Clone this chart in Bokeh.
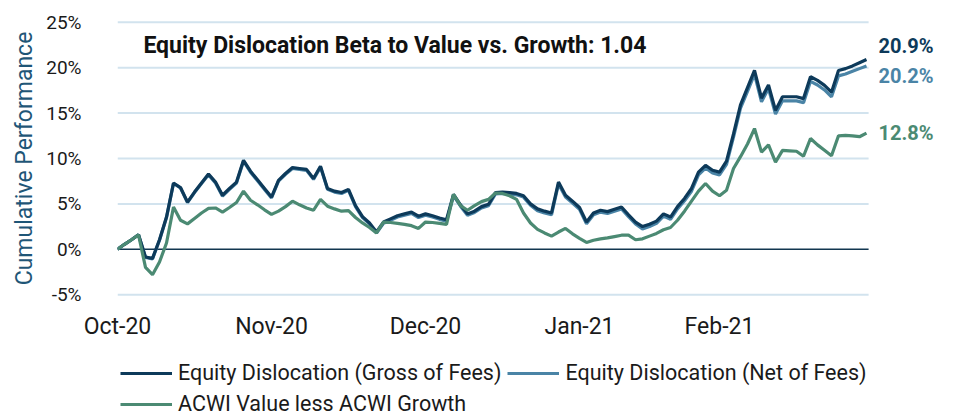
from bokeh.plotting import figure
from bokeh.layouts import column
from bokeh.models import (FixedTicker, Label, LabelSet, Legend, LegendItem,
                          ColumnDataSource)
from bokeh.core.properties import value
from bokeh.embed import file_html
from bokeh.resources import INLINE

# ---------------- data ----------------
day = list(range(108))

gross = [0.0, 0.55, 1.05, 1.6, -0.85, -1.0, 1.05, 3.55, 7.3, 6.8,
         5.2, 6.3, 7.3, 8.3, 7.4, 5.95, 6.7, 7.4, 9.8, 8.6,
         7.65, 6.7, 5.75, 7.6, 8.35, 9.0, 8.9, 8.8, 7.8, 9.15,
         6.7, 6.4, 6.25, 6.6, 4.8, 3.6, 2.9, 1.9, 3.0, 3.35,
         3.7, 3.9, 4.1, 3.65, 3.9, 3.7, 3.45, 3.25, 6.05, 4.9,
         3.9, 4.2, 4.7, 4.95, 6.25, 6.3, 6.25, 6.15, 5.9, 5.0,
         4.45, 4.2, 4.0, 7.4, 5.95, 5.3, 4.6, 3.0, 4.0, 4.3,
         4.15, 4.4, 4.65, 3.8, 3.0, 2.5, 2.75, 3.1, 3.9, 3.55,
         4.7, 5.6, 6.7, 8.5, 9.25, 8.7, 8.5, 9.7, 12.7, 15.9,
         17.8, 19.7, 16.65, 18.1, 15.3, 16.8, 16.8, 16.8, 16.6, 19.0,
         18.6, 18.05, 17.3, 19.7, 19.9, 20.2, 20.55, 20.9]

net = [0.0, 0.55, 1.05, 1.6, -0.9, -1.05, 1.0, 3.5, 7.25, 6.75,
       5.15, 6.25, 7.25, 8.2, 7.3, 5.85, 6.6, 7.3, 9.7, 8.5,
       7.55, 6.6, 5.65, 7.5, 8.25, 8.9, 8.8, 8.7, 7.7, 9.05,
       6.6, 6.3, 6.15, 6.5, 4.7, 3.5, 2.8, 1.8, 2.85, 3.2,
       3.55, 3.75, 3.95, 3.5, 3.75, 3.55, 3.3, 3.1, 5.9, 4.75,
       3.75, 4.05, 4.55, 4.8, 6.1, 6.15, 6.1, 6.0, 5.75, 4.85,
       4.25, 4.0, 3.8, 7.2, 5.75, 5.1, 4.4, 2.8, 3.8, 4.1,
       3.95, 4.2, 4.45, 3.6, 2.8, 2.25, 2.5, 2.85, 3.65, 3.3,
       4.45, 5.35, 6.4, 8.2, 8.95, 8.4, 8.2, 9.35, 12.35, 15.55,
       17.4, 19.3, 16.25, 17.7, 14.9, 16.35, 16.35, 16.35, 16.15, 18.5,
       18.1, 17.55, 16.8, 19.1, 19.3, 19.6, 19.9, 20.2]

acwi = [0.0, 0.55, 1.05, 1.6, -2.0, -2.8, -1.4, 0.7, 4.65, 3.2,
        2.8, 3.4, 4.0, 4.5, 4.55, 4.1, 4.6, 5.15, 6.4, 5.4,
        4.9, 4.35, 3.85, 4.2, 4.7, 5.3, 4.9, 4.55, 4.3, 5.5,
        4.75, 4.45, 4.2, 4.25, 3.5, 2.9, 2.4, 1.8, 3.0, 2.95,
        2.85, 2.75, 2.6, 2.3, 3.0, 2.95, 2.85, 2.75, 6.05, 4.8,
        4.3, 4.8, 5.25, 5.5, 6.2, 6.15, 5.9, 5.5, 4.0, 2.9,
        2.2, 1.8, 1.45, 1.9, 2.3, 1.7, 1.2, 0.75, 1.0, 1.15,
        1.25, 1.4, 1.55, 1.55, 1.05, 1.15, 1.45, 1.75, 2.15, 2.4,
        3.2, 4.2, 5.3, 6.4, 7.25, 6.4, 5.9, 6.5, 8.9, 10.2,
        11.6, 13.3, 10.7, 11.5, 9.6, 10.9, 10.85, 10.8, 10.25, 12.2,
        11.5, 10.9, 10.3, 12.5, 12.55, 12.5, 12.4, 12.8]

series_names = ["Equity Dislocation (Gross of Fees)",
                "Equity Dislocation (Net of Fees)",
                "ACWI Value less ACWI Growth"]
month_ticks = [0, 22, 44, 66, 86]
month_labels = ["Oct-20", "Nov-20", "Dec-20", "Jan-21", "Feb-21"]
y_ticks = [-5, 0, 5, 10, 15, 20, 25]
title_text = "Equity Dislocation Beta to Value vs. Growth: 1.04"

# ---------------- style ----------------
C_GROSS = "#0d3a5a"
C_NET = "#4a84a6"
C_ACWI = "#4b8a73"
C_GRID = "#d2e3ee"
FONT = "Roboto"
PX_PER_DAY = 7.0
FRAME_W = 828

p = figure(frame_width=FRAME_W, frame_height=276,
           x_range=(0, FRAME_W / PX_PER_DAY), y_range=(-5.2, 25.2),
           output_backend="svg", toolbar_location=None,
           min_border_left=117, min_border_right=14, min_border_top=20,
           min_border_bottom=54)
p.outline_line_color = None
p.background_fill_color = "white"
p.border_fill_color = "white"
p.xgrid.grid_line_color = None
p.ygrid.grid_line_color = None

# horizontal gridlines end at the last data point
grid_end = day[-1] + 0.3
grid_src = ColumnDataSource(dict(y=[t for t in y_ticks if t != 0]))
p.segment(x0=day[0], x1=grid_end, y0="y", y1="y", source=grid_src,
          line_color=C_GRID, line_width=2)
p.segment(x0=day[0], x1=grid_end, y0=0, y1=0, line_color="#123650", line_width=1.5)

# y axis
p.yaxis.ticker = FixedTicker(ticks=y_ticks)
p.yaxis.major_label_overrides = {t: f"{t}%" for t in y_ticks}
p.yaxis.axis_line_color = None
p.yaxis.major_tick_line_color = None
p.yaxis.minor_tick_line_color = None
p.yaxis.major_label_text_font = FONT
p.yaxis.major_label_text_font_size = "19px"
p.yaxis.major_label_text_color = "#1a1a1a"
p.yaxis.major_label_standoff = 30
p.yaxis.axis_label = "Cumulative Performance"
p.yaxis.axis_label_text_font = FONT
p.yaxis.axis_label_text_font_style = "normal"
p.yaxis.axis_label_text_font_size = "23px"
p.yaxis.axis_label_text_color = "#1f5677"
p.yaxis.axis_label_standoff = 5

# x axis
p.xaxis.ticker = FixedTicker(ticks=month_ticks)
p.xaxis.major_label_overrides = dict(zip(month_ticks, month_labels))
p.xaxis.axis_line_color = None
p.xaxis.major_tick_line_color = None
p.xaxis.minor_tick_line_color = None
p.xaxis.major_label_text_font = FONT
p.xaxis.major_label_text_font_size = "23px"
p.xaxis.major_label_text_color = "#1a1a1a"
p.xaxis.major_label_standoff = 10

src = ColumnDataSource(dict(day=day, gross=gross, net=net, acwi=acwi))
p.line("day", "net", source=src, line_color=C_NET, line_width=3.2)
p.line("day", "gross", source=src, line_color=C_GROSS, line_width=3.2)
p.line("day", "acwi", source=src, line_color=C_ACWI, line_width=3.2)

# end labels
last_y = [gross[-1], net[-1], acwi[-1]]
end_src = ColumnDataSource(dict(
    x=[day[-1]] * 3, y=last_y,
    txt=[f"{v:.1f}%" for v in last_y],
    col=[C_GROSS, C_NET, C_ACWI],
    dy=[14, -10, 0]))
p.add_layout(LabelSet(x="x", y="y", text="txt", source=end_src, text_color="col",
                      x_offset=12, y_offset="dy", text_font=value(FONT),
                      text_font_style="bold", text_font_size="20px",
                      text_baseline="middle", text_align="left"))

p.add_layout(Label(x=3.7, y=22.5, text=title_text, text_font=FONT,
                   text_font_style="bold", text_font_size="23px",
                   text_color="#111111", text_baseline="middle"))

# ---------------- legend strip ----------------
leg = figure(width=959, height=69, x_range=(0, 1), y_range=(0, 1),
             output_backend="svg", toolbar_location=None,
             x_axis_location=None, y_axis_location=None,
             min_border_left=117, min_border_right=14, min_border_top=0,
             min_border_bottom=0)
leg.outline_line_color = None
leg.xgrid.grid_line_color = None
leg.ygrid.grid_line_color = None
swatches = [leg.line(x=[float("nan")], y=[float("nan")], line_color=c, line_width=3.2)
            for c in (C_GROSS, C_NET, C_ACWI)]
legend = Legend(items=[LegendItem(label=n, renderers=[r])
                       for n, r in zip(series_names, swatches)],
                location=(3, 3), orientation="horizontal", ncols=2)
legend.border_line_color = None
legend.background_fill_alpha = 0
legend.label_text_font = FONT
legend.label_text_font_size = "21.5px"
legend.label_text_color = "#1a1a1a"
legend.glyph_width = 52
legend.glyph_height = 22
legend.label_height = 22
legend.label_standoff = 6
legend.spacing = 6
legend.padding = 0
legend.margin = 0
leg.add_layout(legend, "center")

open("out.html", "w").write(file_html(column(p, leg, spacing=0), INLINE))
